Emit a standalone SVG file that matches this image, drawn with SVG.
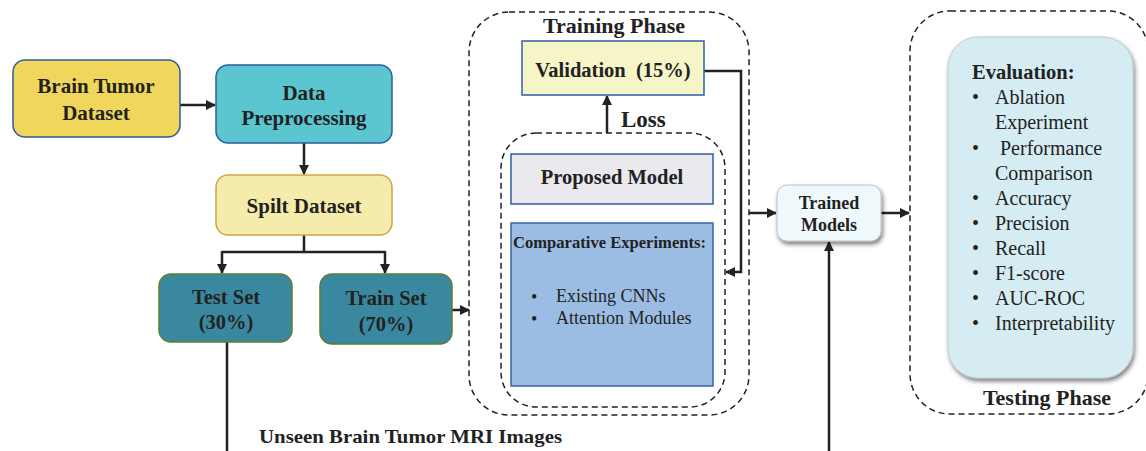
<svg xmlns="http://www.w3.org/2000/svg" width="1146" height="451" viewBox="0 0 1146 451">
<style>
.t{font-family:"Liberation Serif","Times New Roman",serif;fill:#222;}
.b{font-weight:bold;}
.c{text-anchor:middle;}
.dash{fill:none;stroke:#222;stroke-width:1.5;stroke-dasharray:6 4;}
.ln{fill:none;stroke:#222;stroke-width:2.5;}
</style>
<defs>
<marker id="ah" markerUnits="userSpaceOnUse" markerWidth="10" markerHeight="10" refX="9" refY="5" orient="auto">
<path d="M0,0 L10,5 L0,10 z" fill="#222"/>
</marker>
<filter id="sh" x="-20%" y="-20%" width="140%" height="140%">
<feDropShadow dx="1.5" dy="3" stdDeviation="2" flood-color="#000" flood-opacity="0.5"/>
</filter>
</defs>
<rect width="1146" height="451" fill="#fff"/>

<!-- phase containers -->
<g id="training-phase">
<rect class="dash" x="469" y="12" width="280" height="403" rx="40"/>
<text class="t b c" x="614" y="33" font-size="22">Training Phase</text>
</g>
<g id="model-group">
<rect class="dash" x="501" y="133" width="224" height="274" rx="35"/>
</g>
<g id="testing-phase">
<rect class="dash" x="910" y="11" width="238" height="403" rx="40"/>
<text class="t b c" x="1047" y="405" font-size="22">Testing Phase</text>
</g>

<g id="connectors">
<path class="ln" d="M180,105 H215" marker-end="url(#ah)"/>
<path class="ln" d="M304,143 V174" marker-end="url(#ah)"/>
<path class="ln" d="M304,235 V252"/>
<path class="ln" d="M222,252 H385"/>
<path class="ln" d="M222,251 V273" marker-end="url(#ah)"/>
<path class="ln" d="M385,251 V273" marker-end="url(#ah)"/>
<path class="ln" d="M452,310 H469" marker-end="url(#ah)"/>
<path class="ln" stroke-width="2" d="M227,342 V451"/>
<path class="ln" d="M607,133 V96" marker-end="url(#ah)"/>
<path class="ln" stroke-width="3" d="M704,71 H741 V272 H726" marker-end="url(#ah)"/>
<path class="ln" d="M749,213 H776" marker-end="url(#ah)"/>
<path class="ln" d="M881,213 H909" marker-end="url(#ah)"/>
<path class="ln" stroke-width="2" d="M829,451 V242" marker-end="url(#ah)"/>
</g>

<g id="brain-tumor-dataset">
<rect x="13" y="60" width="167" height="77" rx="12" fill="#F0D65A" stroke="#2E5C9A" stroke-width="1.5"/>
<text class="t b c" x="96" y="93" font-size="21">Brain Tumor</text>
<text class="t b c" x="96" y="120" font-size="21">Dataset</text>
</g>
<g id="data-preprocessing">
<rect x="216" y="65" width="176" height="78" rx="12" fill="#5BC6D0" stroke="#2E5C9A" stroke-width="1.5"/>
<text class="t b c" x="304" y="100" font-size="21">Data</text>
<text class="t b c" x="304" y="125" font-size="21">Preprocessing</text>
</g>
<g id="split-dataset">
<rect x="216" y="175" width="176" height="60" rx="12" fill="#F5EBAA" stroke="#D1A542" stroke-width="1.5"/>
<text class="t b c" x="304" y="213" font-size="21">Spilt Dataset</text>
</g>
<g id="test-set">
<rect x="159" y="274" width="133" height="68" rx="12" fill="#3A88A0" stroke="#5E7D2E" stroke-width="1.5"/>
<text class="t b c" x="226" y="304" font-size="20.5">Test Set</text>
<text class="t b c" x="226" y="329" font-size="20.5">(30%)</text>
</g>
<g id="train-set">
<rect x="320" y="274" width="132" height="70" rx="12" fill="#3A88A0" stroke="#5E7D2E" stroke-width="1.5"/>
<text class="t b c" x="386" y="305" font-size="20.5">Train Set</text>
<text class="t b c" x="386" y="331" font-size="20.5">(70%)</text>
</g>
<g id="validation">
<rect x="522" y="41" width="182" height="54" fill="#F5F5C8" stroke="#2F5DA8" stroke-width="1.5"/>
<text class="t b c" x="613" y="77" font-size="20.5" xml:space="preserve">Validation  (15%)</text>
</g>
<g id="loss-label">
<text class="t b" x="621" y="127" font-size="23">Loss</text>
</g>
<g id="proposed-model">
<rect x="511" y="154" width="202" height="50" fill="#E9E9EE" stroke="#2F5DA8" stroke-width="1.5"/>
<text class="t b c" x="612" y="184" font-size="20.5">Proposed Model</text>
</g>
<g id="comparative-experiments">
<rect x="511" y="223" width="202" height="163" fill="#9BBDE4" stroke="#3A64A8" stroke-width="1.5"/>
<text class="t b" x="513" y="248" font-size="16.5" textLength="193" lengthAdjust="spacingAndGlyphs">Comparative Experiments:</text>
<text class="t" x="531" y="303" font-size="18">•</text>
<text class="t" x="556" y="302" font-size="18">Existing CNNs</text>
<text class="t" x="531" y="325" font-size="18">•</text>
<text class="t" x="556" y="324" font-size="18">Attention Modules</text>
</g>
<g id="trained-models">
<rect x="777" y="185" width="104" height="56" rx="10" fill="#EFF8FB" stroke="#B8C4C8" stroke-width="1" filter="url(#sh)"/>
<text class="t b c" x="829" y="209" font-size="18">Trained</text>
<text class="t b c" x="829" y="231" font-size="18">Models</text>
</g>
<g id="evaluation">
<rect x="948" y="37" width="185" height="341" rx="30" fill="#D5EDF2" stroke="#B8CCD2" stroke-width="1" filter="url(#sh)"/>
<text class="t b" x="972" y="79" font-size="20.5">Evaluation:</text>
<g font-size="20">
<text class="t" x="972" y="104">•</text><text class="t" x="995" y="104">Ablation</text>
<text class="t" x="995" y="129">Experiment</text>
<text class="t" x="972" y="155">•</text><text class="t" x="995" y="155" xml:space="preserve"> Performance</text>
<text class="t" x="995" y="180">Comparison</text>
<text class="t" x="972" y="205">•</text><text class="t" x="995" y="205">Accuracy</text>
<text class="t" x="972" y="230">•</text><text class="t" x="995" y="230">Precision</text>
<text class="t" x="972" y="255">•</text><text class="t" x="995" y="255">Recall</text>
<text class="t" x="972" y="280">•</text><text class="t" x="995" y="280">F1-score</text>
<text class="t" x="972" y="305">•</text><text class="t" x="995" y="305">AUC-ROC</text>
<text class="t" x="972" y="330">•</text><text class="t" x="995" y="330">Interpretability</text>
</g>
</g>
<g id="unseen-label">
<text class="t b" x="259" y="443" font-size="19.5" textLength="303" lengthAdjust="spacingAndGlyphs">Unseen Brain Tumor MRI Images</text>
</g>
</svg>
